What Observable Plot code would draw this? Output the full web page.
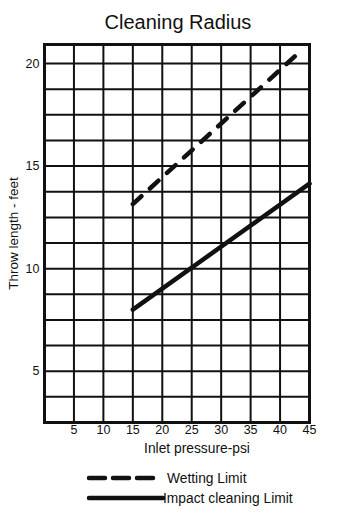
<!DOCTYPE html>
<html>
<head>
<meta charset="utf-8">
<script src="https://cdn.jsdelivr.net/npm/d3@7"></script>
<script src="https://cdn.jsdelivr.net/npm/@observablehq/plot@0.6"></script>
<style>
  html, body { margin: 0; padding: 0; background: #fff; }
  body { width: 356px; height: 514px; overflow: hidden; font-family: "Liberation Sans", Arial, Helvetica, sans-serif; }
  #title { height: 24px; padding-top: 12px; line-height: 20px; font-size: 20px; text-align: center; color: #111; }
  #chart svg { display: block; }
  #legend { display: block; }
</style>
</head>
<body>
<div id="title">Cleaning Radius</div>
<div id="chart"></div>
<svg id="legend" width="356" height="52">
  <line x1="89" x2="155" y1="16" y2="16" stroke="#111" stroke-width="4.5" stroke-linecap="round" stroke-dasharray="16,8"></line>
  <text x="167" y="16" dy="0.35em" font-size="13.8" fill="#111">Wetting Limit</text>
  <line x1="89" x2="163" y1="36" y2="36" stroke="#111" stroke-width="4.5" stroke-linecap="round"></line>
  <text x="163" y="36" dy="0.35em" font-size="13.8" fill="#111">Impact cleaning Limit</text>
</svg>
<script>
// Data
const wettingPressure = [15, 42.5];
const wettingThrow = [13.15, 20.35];
const impactPressure = [15, 45];
const impactThrow = [8.0, 14.15];

// Axis ticks and grid
const xTickLabels = [5, 10, 15, 20, 25, 30, 35, 40, 45];
const xGridLines = [5, 10, 15, 20, 25, 30, 35, 40];
const yTickLabels = [5, 10, 15, 20];
const yGridLines = [3.75, 5, 6.25, 7.5, 8.75, 10, 11.25, 12.5, 13.75, 15, 16.25, 17.5, 18.75, 20];

const wetting = wettingPressure.map((p, i) => ({ p, t: wettingThrow[i] }));
const impact = impactPressure.map((p, i) => ({ p, t: impactThrow[i] }));

const chart = Plot.plot({
  width: 356,
  height: 426,
  marginLeft: 44,
  marginRight: 47,
  marginTop: 8,
  marginBottom: 40,
  style: { fontFamily: "'Liberation Sans', Arial, Helvetica, sans-serif", fontSize: "12px", color: "#111", background: "#fff" },
  x: { domain: [0, 45] },
  y: { domain: [2.5, 20.93] },
  marks: [
    Plot.ruleX(xGridLines, { x: d => d, stroke: "#111", strokeWidth: 2 }),
    Plot.ruleY(yGridLines, { y: d => d, stroke: "#111", strokeWidth: 2 }),
    Plot.frame({ stroke: "#111", strokeWidth: 3 }),
    Plot.axisX(xTickLabels, { tickSize: 0, tickPadding: 3, fontSize: 12.5, label: null }),
    Plot.axisY(yTickLabels, { tickSize: 0, tickPadding: 5, fontSize: 12.5, label: null }),
    Plot.line(wetting, { x: "p", y: "t", stroke: "#111", strokeWidth: 4.5, strokeDasharray: "11.6,11.5", strokeLinecap: "round" }),
    Plot.line(impact, { x: "p", y: "t", stroke: "#111", strokeWidth: 4.5 }),
    Plot.text(["Inlet pressure-psi"], { frameAnchor: "bottom", lineAnchor: "middle", dy: 26, dx: 20, fontSize: 13.8, fill: "#111" }),
    Plot.text(["Throw length - feet"], { frameAnchor: "left", textAnchor: "middle", dx: -31, rotate: -90, fontSize: 13.5, fill: "#111" })
  ]
});
document.getElementById("chart").appendChild(chart);
</script>
</body>
</html>
